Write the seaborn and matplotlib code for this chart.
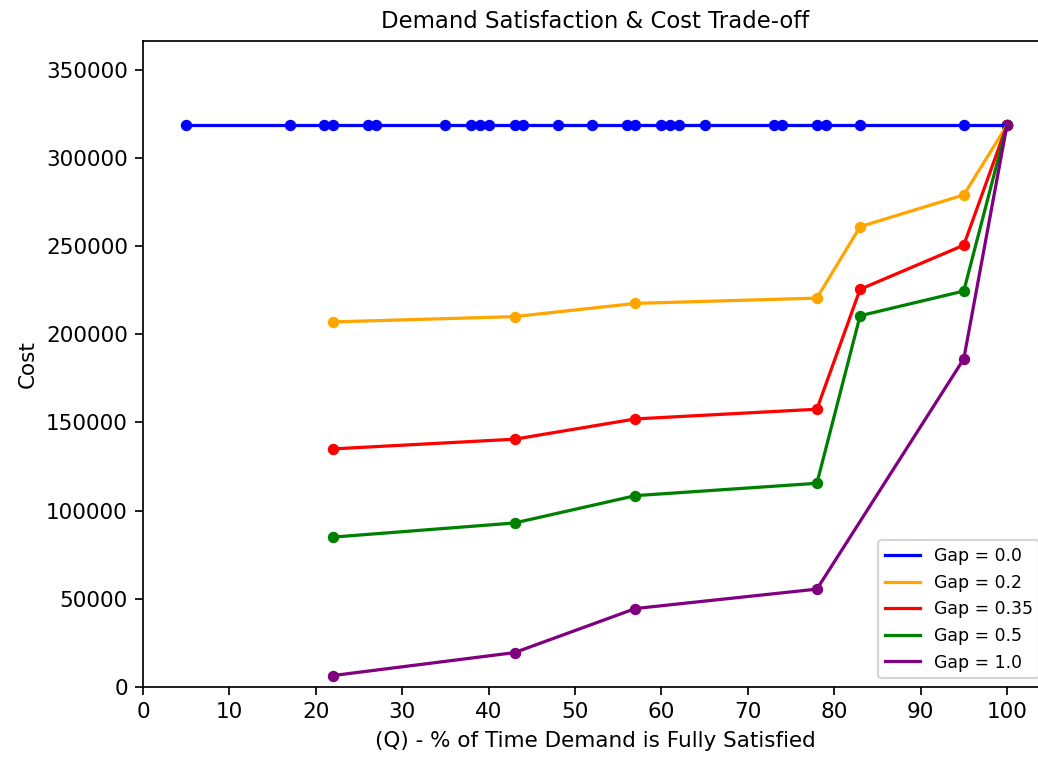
import matplotlib
matplotlib.use("Agg")
import matplotlib.pyplot as plt
import seaborn as sns
import pandas as pd

# Service level Q (% of time demand is fully satisfied) and total cost per gap setting
gap_labels = ["Gap = 0.0", "Gap = 0.2", "Gap = 0.35", "Gap = 0.5", "Gap = 1.0"]
colors = ["blue", "orange", "red", "green", "purple"]

q_gap_00 = [5, 17, 21, 22, 26, 27, 35, 38, 39, 40, 43, 44, 48, 52, 56, 57,
            60, 61, 62, 65, 73, 74, 78, 79, 83, 95, 100]
cost_gap_00 = [318500] * len(q_gap_00)

q_gap_02 = [22, 43, 57, 78, 83, 95, 100]
cost_gap_02 = [207000, 210000, 217500, 220500, 261000, 279000, 318500]

q_gap_035 = [22, 43, 57, 78, 83, 95, 100]
cost_gap_035 = [135000, 140500, 152000, 157500, 225500, 250500, 318500]

q_gap_05 = [22, 43, 57, 78, 83, 95, 100]
cost_gap_05 = [85000, 93000, 108500, 115500, 210500, 224500, 318500]

q_gap_10 = [22, 43, 57, 78, 95, 100]
cost_gap_10 = [6500, 19500, 44500, 55500, 186000, 318500]

series_q = [q_gap_00, q_gap_02, q_gap_035, q_gap_05, q_gap_10]
series_cost = [cost_gap_00, cost_gap_02, cost_gap_035, cost_gap_05, cost_gap_10]

dpi = 155
fig = plt.figure(figsize=(1038 / dpi, 759 / dpi), dpi=dpi)
ax = fig.add_axes([143 / 1038, 72 / 759, (1048 - 143) / 1038, 646 / 759])

for label, color, q, cost in zip(gap_labels, colors, series_q, series_cost):
    df = pd.DataFrame({"Q": q, "Cost": cost})
    sns.lineplot(data=df, x="Q", y="Cost", color=color, label=label,
                 linewidth=1.5, ax=ax)
    sns.scatterplot(data=df, x="Q", y="Cost", color=color, s=28,
                    linewidth=0, ax=ax, legend=False)

max_cost = max(max(c) for c in series_cost)
ax.set_ylim(0, max_cost * 1.15)
ax.set_xlim(left=0)
ax.set_xticks(range(0, 101, 10))
ax.ticklabel_format(axis="y", style="plain")

ax.set_title("Demand Satisfaction & Cost Trade-off", fontsize=10.6)
ax.set_xlabel("(Q) - % of Time Demand is Fully Satisfied")
ax.set_ylabel("Cost")
ax.legend(loc="lower right", fontsize=8)

fig.savefig("out.png", dpi=dpi)
